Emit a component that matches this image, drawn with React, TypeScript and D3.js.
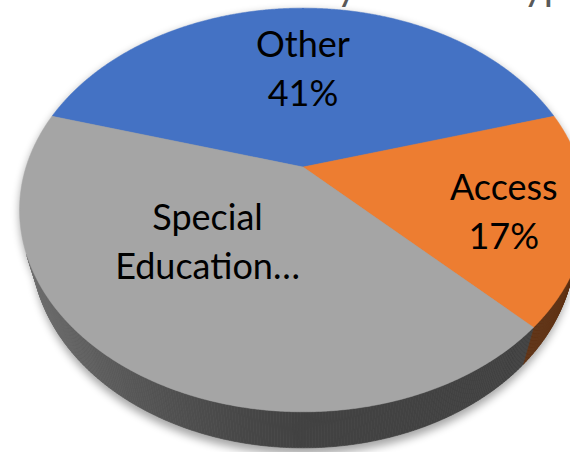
import React from 'react';
import * as d3 from 'd3';

// ---- data ----
const categories = ['Other', 'Access', 'Special Education…'];
const shares = [41, 17, 42];
const labelLines = [['Other', '41%'], ['Access', '17%'], ['Special', 'Education…']];
const colors = ['#4472C4', '#ED7D31', '#A5A5A5'];
const chartTitle = 'Referrals by Service Type';

// ---- layout ----
const W = 570, H = 452;
const CX = 303, CY = 167;
const ELEV = (44.1 * Math.PI) / 180;
const DIST = 3.373;
const FOCAL = 934;
const DEPTH = 0.2013;
const FONT = 36;
const LINE_H = 49;
const CAP = 26;
// label placement nudges (px) relative to projected slice centroid
const LABEL_NUDGE: [number, number][] = [[0, -19], [22, 4], [-36, -35]];

function project(theta: number, r: number, y: number): [number, number] {
  const x = r * Math.sin(theta), z = r * Math.cos(theta);
  const c = Math.cos(ELEV), s = Math.sin(ELEV);
  const w = DIST + z * c - y * s;
  return [CX + (FOCAL * x) / w, CY - (FOCAL * (z * s + y * c)) / w];
}

function rim(a0: number, a1: number, y: number, step = Math.PI / 720): [number, number][] {
  const n = Math.max(2, Math.ceil(Math.abs(a1 - a0) / step));
  const pts: [number, number][] = [];
  for (let i = 0; i <= n; i++) pts.push(project(a0 + ((a1 - a0) * i) / n, 1, y));
  return pts;
}

const line = d3.line<[number, number]>();

export default function App() {
  const total = d3.sum(shares);
  const start = -Math.PI * (shares[0] / total);
  const pie = d3.pie<number>().sort(null).value((d) => d).startAngle(start).endAngle(start + 2 * Math.PI);
  const arcs = pie(shares);

  const thr = Math.acos(-1 / (DIST * Math.cos(ELEV)));
  const visIntervals: [number, number][] = [-1, 0, 1].map((k) => [thr + 2 * Math.PI * k, 2 * Math.PI - thr + 2 * Math.PI * k]);

  const shade = (theta: number) => 0.4 + 0.3 * Math.pow(Math.max(0, -Math.sin(theta)), 1.3);

  const sides: { d: string; fill: string }[] = [];
  arcs.forEach((a, i) => {
    visIntervals.forEach(([v0, v1]) => {
      const s0 = Math.max(a.startAngle, v0), s1 = Math.min(a.endAngle, v1);
      if (s1 <= s0) return;
      const step = Math.PI / 360;
      const n = Math.max(1, Math.ceil((s1 - s0) / step));
      for (let j = 0; j < n; j++) {
        const t0 = s0 + ((s1 - s0) * j) / n, t1 = s0 + ((s1 - s0) * (j + 1)) / n;
        const pts = [project(t0, 1, 0), project(t1, 1, 0), project(t1, 1, -DEPTH), project(t0, 1, -DEPTH)];
        const base = d3.rgb(colors[i]);
        const f = shade((t0 + t1) / 2);
        const col = d3.rgb(base.r * f, base.g * f, base.b * f).formatHex();
        sides.push({ d: line(pts) + 'Z', fill: col });
      }
    });
  });

  const tops = arcs.map((a, i) => {
    const pts: [number, number][] = [project(0, 0, 0), ...rim(a.startAngle, a.endAngle, 0)];
    return { d: line(pts) + 'Z', fill: colors[i], pts };
  });

  const shadowPath = line(rim(0, 2 * Math.PI, -DEPTH - 0.02)) + 'Z';
  const topEllipse = line(rim(0, 2 * Math.PI, 0)) + 'Z';

  const labels = tops.map((t, i) => {
    const c = d3.polygonCentroid(t.pts);
    return { x: c[0] + LABEL_NUDGE[i][0], y: c[1] + LABEL_NUDGE[i][1], lines: labelLines[i], key: categories[i] };
  });

  return (
    <svg width={W} height={H} style={{ position: 'fixed', left: 0, top: 0, background: '#fff' }}>
      <defs>
        <filter id="shadow" x="-20%" y="-20%" width="140%" height="140%">
          <feGaussianBlur stdDeviation="4" />
        </filter>
      </defs>
      <text x={150} y={0} fontFamily="Lato, 'Open Sans', sans-serif" fontSize={40} fill="#595959">{chartTitle}</text>
      <g filter="url(#shadow)" opacity={0.35} transform="translate(0,3)">
        <path d={shadowPath} fill="#000" />
        <path d={topEllipse} fill="#000" />
      </g>
      <g>
        {sides.map((s, i) => (
          <path key={i} d={s.d} fill={s.fill} stroke={s.fill} strokeWidth={0.6} />
        ))}
      </g>
      <g>
        {tops.map((t, i) => (
          <path key={i} d={t.d} fill={t.fill} stroke={t.fill} strokeWidth={0.5} />
        ))}
      </g>
      <g fontFamily="Lato, 'Open Sans', sans-serif" fontSize={FONT} fill="#000" textAnchor="middle">
        {labels.map((l) => {
          const b1 = l.y - (LINE_H - CAP) / 2;
          return (
            <text key={l.key} x={l.x}>
              {l.lines.map((ln, j) => (
                <tspan key={j} x={l.x} y={b1 + j * LINE_H}>{ln}</tspan>
              ))}
            </text>
          );
        })}
      </g>
    </svg>
  );
}
